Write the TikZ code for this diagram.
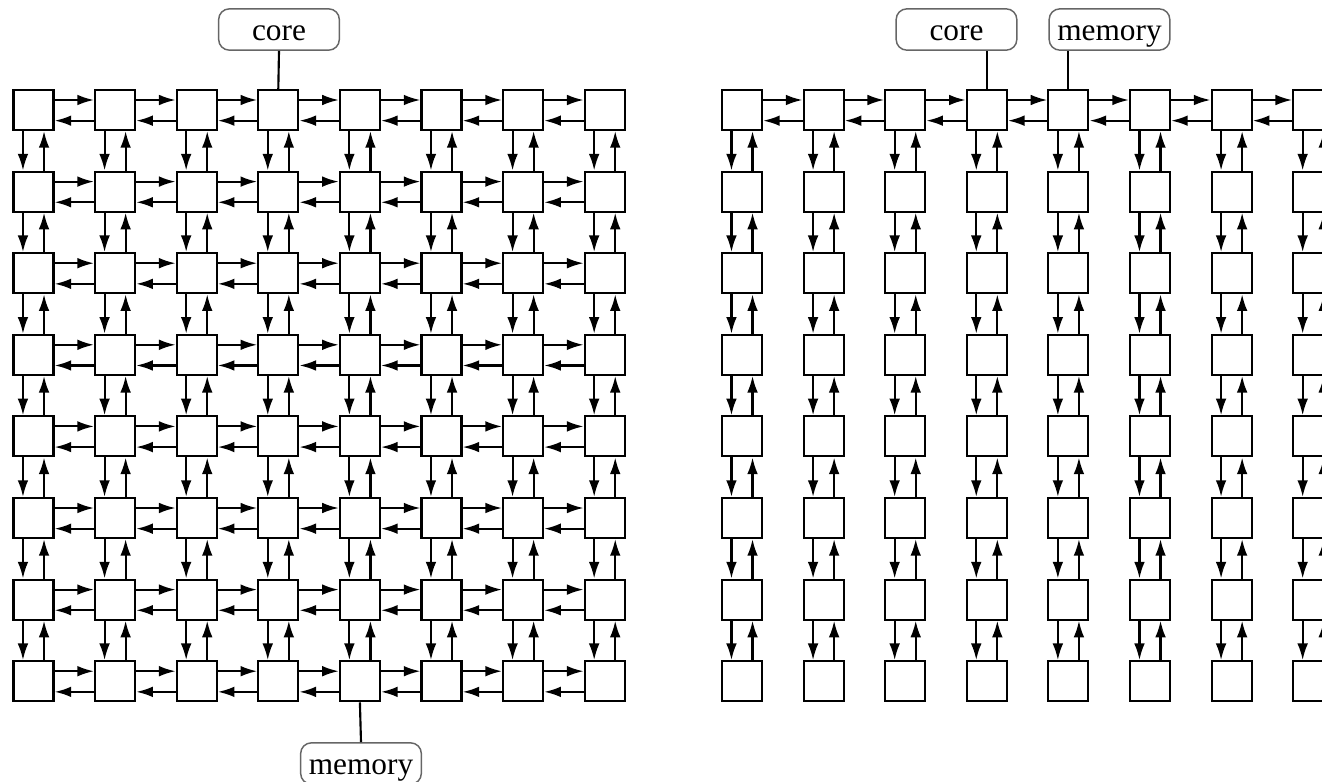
\documentclass[tikz,border=0pt]{standalone}
\usepackage{fontspec}
\setmainfont{Liberation Serif}
\usetikzlibrary{arrows.meta}
\begin{document}
\begin{tikzpicture}[x=0.75pt,y=-0.75pt,
 cell/.style={draw, line width=1.6pt, minimum size=30pt, inner sep=0pt},
 link/.style={line width=1.6pt, -{Latex[length=12.5pt,width=8pt]}},
 tag/.style={draw=black!60, line width=1.1pt, rounded corners=8pt, minimum width=90.5pt, minimum height=31pt, inner sep=1pt, text height=20pt, text depth=4pt, font=\fontsize{23.5}{26}\selectfont},
 stem/.style={line width=1.6pt}]
\useasboundingbox (0,0) rectangle (1322,782);
\clip (0,0) rectangle (1322,782);
\foreach \i in {0,...,7}{
 \foreach \j in {0,...,7}{
  \node[cell] (L-\i-\j) at (33.5+81.6*\i, 110+81.6*\j) {};
  \node[cell] (R-\i-\j) at (742+81.6*\i, 110+81.6*\j) {};
 }}
\foreach \i [count=\n from 1] in {0,...,6}{
 \foreach \j in {0,...,7}{
  \draw[link] ([yshift=7.5pt]L-\i-\j.east) -- ([yshift=7.5pt]L-\n-\j.west);
  \draw[link] ([yshift=-8pt]L-\n-\j.west) -- ([yshift=-8pt]L-\i-\j.east);
  \draw[link] ([xshift=-7.9pt]L-\j-\i.south) -- ([xshift=-7.9pt]L-\j-\n.north);
  \draw[link] ([xshift=7.9pt]L-\j-\n.north) -- ([xshift=7.9pt]L-\j-\i.south);
  \draw[link] ([xshift=-7.9pt]R-\j-\i.south) -- ([xshift=-7.9pt]R-\j-\n.north);
  \draw[link] ([xshift=7.9pt]R-\j-\n.north) -- ([xshift=7.9pt]R-\j-\i.south);
 }
 \draw[link] ([yshift=7.5pt]R-\i-0.east) -- ([yshift=7.5pt]R-\n-0.west);
 \draw[link] ([yshift=-8pt]R-\n-0.west) -- ([yshift=-8pt]R-\i-0.east);
}
\node[tag] (Lcore) at (279,29.5) {core};
\draw[stem] (Lcore.south) -- (L-3-0.north);
\node[tag] (Lmem) at (361,763.5) {memory};
\draw[stem] (L-4-7.south) -- (Lmem.north);
\node[tag] (Rcore) at (956.5,29.5) {core};
\draw[stem] (R-3-0.north) -- (R-3-0.north |- Rcore.south);
\node[tag] (Rmem) at (1109.5,29.5) {memory};
\draw[stem] (R-4-0.north) -- (R-4-0.north |- Rmem.south);
\end{tikzpicture}
\end{document}
